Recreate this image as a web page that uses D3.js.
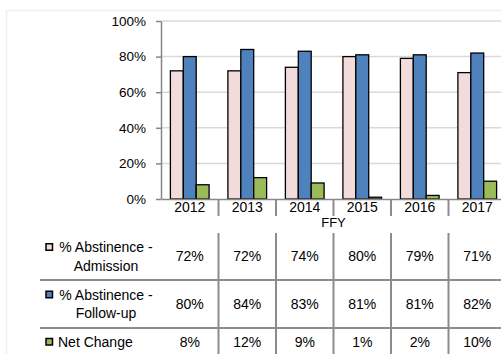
<!DOCTYPE html>
<html><head><meta charset="utf-8">
<script src="https://cdn.jsdelivr.net/npm/d3@7"></script>
<style>
html,body{margin:0;padding:0;background:#fff;}
svg{display:block;font-family:"Liberation Sans",Arial,sans-serif;}
</style></head>
<body>
<svg id="c" width="501" height="354"></svg>
<script>
const years = ["2012","2013","2014","2015","2016","2017"];
const admission = [72,72,74,80,79,71];
const followup = [80,84,83,81,81,82];
const netChange = [8,12,9,1,2,10];
const yTicks = [0,20,40,60,80,100];
const seriesNames = ["% Abstinence - Admission","% Abstinence - Follow-up","Net Change"];
const seriesColors = ["#F2DCDB","#4F81BD","#9BBB59"];
const seriesLabelLines = [["% Abstinence -","Admission"],["% Abstinence -","Follow-up"],["Net Change"]];

const series = [admission, followup, netChange];
const svg = d3.select("#c");

// chart area faint border
svg.append("path").attr("d","M6.5,354 V10.5 H501").attr("fill","none").attr("stroke","#f0f0f0").attr("stroke-width",1.5);

const x = d3.scaleBand().domain(years).range([161, 161 + 6*57.5]).paddingInner(0).paddingOuter(0);
const y = d3.scaleLinear().domain([0,100]).range([199, 21]);
const xs = d3.scaleBand().domain(d3.range(3)).range([9.4, 48.1]).paddingInner(0);

// gridlines
svg.append("g").selectAll("line").data(yTicks.filter(d=>d>0)).join("line")
  .attr("x1",161).attr("x2",506).attr("y1",d=>y(d)).attr("y2",d=>y(d))
  .attr("stroke","#D9D9D9").attr("stroke-width",1.5);

// y axis
const yAxis = d3.axisLeft(y).tickValues(yTicks).tickFormat(d=>d+"%").tickSize(5).tickSizeOuter(0);
const gy = svg.append("g").attr("transform","translate(161,0)").call(yAxis);
gy.select(".domain").attr("stroke","#868686").attr("stroke-width",1.5);
gy.selectAll(".tick line").attr("stroke","#868686").attr("stroke-width",1.5);
gy.selectAll(".tick text").attr("x",-15).attr("font-size","13.5px").attr("fill","#000").attr("font-family","Liberation Sans, Arial, sans-serif");

// bars
const groups = svg.append("g").selectAll("g").data(years).join("g")
  .attr("transform",d=>`translate(${x(d)},0)`);
groups.selectAll("rect").data((d,i)=>series.map((s,k)=>({k, v:s[i]}))).join("rect")
  .attr("x",d=>xs(d.k)).attr("width",xs.bandwidth())
  .attr("y",d=>y(d.v)).attr("height",d=>y(0)-y(d.v))
  .attr("fill",d=>seriesColors[d.k]).attr("stroke","#000").attr("stroke-width",1.3);

// x axis
const xAxis = d3.axisBottom(x).tickSize(0).tickSizeOuter(0);
const gx = svg.append("g").attr("transform","translate(0,199)").call(xAxis);
gx.select(".domain").attr("stroke","#868686").attr("stroke-width",1.5);
gx.selectAll(".tick text").attr("y",3).attr("font-size","14px").attr("fill","#000").attr("font-family","Liberation Sans, Arial, sans-serif");

// category separators below axis
const bounds = years.slice(1).map(d=>x(d)).concat([x(years[5])+x.bandwidth()]);
svg.append("g").selectAll("line").data(bounds).join("line")
  .attr("x1",d=>d).attr("x2",d=>d).attr("y1",199).attr("y2",216)
  .attr("stroke","#8c8c8c").attr("stroke-width",2);

// axis title
svg.append("text").attr("x",(x.range()[0]+x.range()[1])/2).attr("y",227).attr("text-anchor","middle")
  .attr("font-size","13px").text("FFY");

// data table
const rowTops = [233, 280, 328, 380];
svg.append("g").selectAll("line").data([280,328]).join("line")
  .attr("x1",40).attr("x2",506).attr("y1",d=>d).attr("y2",d=>d)
  .attr("stroke","#8c8c8c").attr("stroke-width",2);
svg.append("g").selectAll("line").data(bounds).join("line")
  .attr("x1",d=>d).attr("x2",d=>d).attr("y1",233).attr("y2",354)
  .attr("stroke","#8c8c8c").attr("stroke-width",2);

const rowCenters = [256.5, 304, 342];
series.forEach((s,k)=>{
  const lines = seriesLabelLines[k];
  const cy = rowCenters[k];
  const lh = 18.5;
  const firstY = lines.length===2 ? cy - lh/2 : cy;
  svg.append("rect").attr("x",46).attr("y",firstY-3.5).attr("width",6.5).attr("height",6.5)
    .attr("fill",seriesColors[k]).attr("stroke","#000").attr("stroke-width",1.5);
  if(lines.length===2){
    svg.append("text").attr("x",106).attr("y",firstY).attr("dy","0.35em").attr("text-anchor","middle").attr("font-size","14px").text(lines[0]);
    svg.append("text").attr("x",106).attr("y",firstY+lh).attr("dy","0.35em").attr("text-anchor","middle").attr("font-size","14px").text(lines[1]);
  } else {
    svg.append("text").attr("x",58).attr("y",firstY).attr("dy","0.35em").attr("font-size","14px").text(lines[0]);
  }
  svg.append("g").selectAll("text").data(s).join("text")
    .attr("x",(d,i)=>x(years[i])+x.bandwidth()/2).attr("y",cy).attr("dy","0.35em")
    .attr("text-anchor","middle").attr("font-size","14px").text(d=>d+"%");
});
</script>
</body></html>
